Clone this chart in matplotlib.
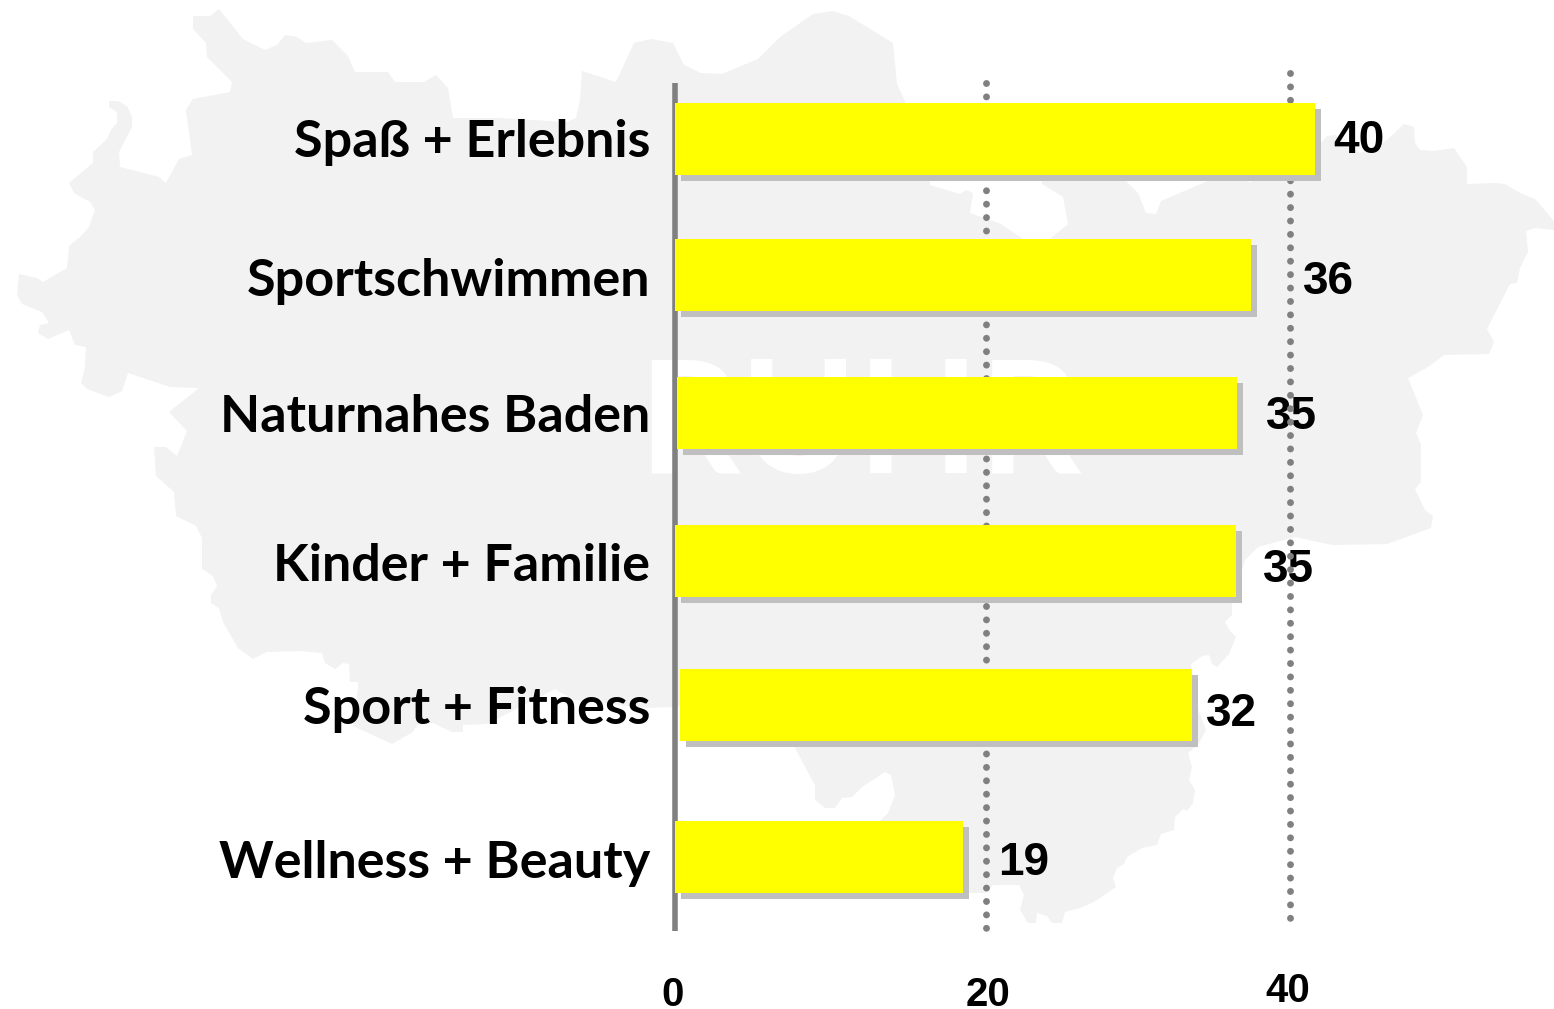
import matplotlib
matplotlib.use('Agg')
from matplotlib import pyplot as plt
from matplotlib.patches import Polygon

categories = ['Spaß + Erlebnis', 'Sportschwimmen', 'Naturnahes Baden', 'Kinder + Familie', 'Sport + Fitness', 'Wellness + Beauty']
value_labels = ['40', '36', '35', '35', '32', '19']
bar_ends = [41.6, 37.4, 36.5, 36.4, 33.5, 18.45]
bar_starts = [-0.49, -0.49, -0.36, -0.49, -0.16, -0.49]
tick_values = [0, 20, 40]
tick_labels = ['0', '20', '40']

# layout, in pixels of the 1554x1009 picture
X_ZERO = 682.5
X_SCALE = 15.2
ROW_CENTERS = [139, 275, 413, 561, 705, 857]
BAR_HEIGHT = 72
LABEL_BASELINES = [157, 296, 432, 581, 724, 878]
VALUE_CENTERS = [1359, 1328, 1291, 1288, 1232, 1024]
VALUE_BASELINES = [153, 294, 429, 582, 726, 875]
TICK_CENTERS = [673, 988, 1288]
TICK_BASELINES = [1006, 1006, 1002]

# background map outline
map_outline = [
    (193, 16), (210, 16), (219, 9), (243, 39), (265, 50), (277, 45), (285, 35), (297, 37), (306, 43), (332, 40),
    (348, 56), (355, 72), (388, 72), (395, 82), (424, 82), (436, 75), (448, 88), (453, 118), (500, 118), (566, 122),
    (576, 118), (580, 100), (582, 71), (616, 82), (634, 43), (651, 39), (673, 43), (684, 65), (701, 73), (722, 74),
    (758, 59), (780, 37), (813, 14), (832, 11), (849, 16), (893, 43), (897, 84), (905, 101), (930, 180), (930, 185),
    (960, 194), (966, 190), (973, 193), (970, 213), (1001, 224), (1023, 239), (1050, 239), (1068, 224), (1063, 197),
    (1042, 184), (1042, 175), (1127, 175), (1127, 182), (1138, 193), (1146, 213), (1156, 214), (1161, 201),
    (1210, 180), (1245, 178), (1250, 183), (1256, 176), (1321, 143), (1327, 136), (1335, 135), (1360, 153),
    (1387, 140), (1404, 124), (1414, 127), (1415, 143), (1420, 150), (1433, 151), (1454, 148), (1467, 167),
    (1467, 184), (1493, 183), (1505, 184), (1520, 193), (1535, 199), (1554, 221), (1554, 230), (1535, 228),
    (1526, 231), (1528, 252), (1520, 268), (1517, 283), (1510, 284), (1487, 329), (1494, 342), (1489, 354),
    (1444, 355), (1428, 367), (1408, 378), (1423, 415), (1416, 433), (1421, 445), (1421, 482), (1415, 489),
    (1425, 510), (1433, 516), (1431, 528), (1387, 544), (1332, 545), (1295, 537), (1258, 547), (1245, 560),
    (1232, 603), (1232, 615), (1225, 622), (1230, 631), (1236, 637), (1229, 654), (1217, 667), (1212, 664),
    (1209, 655), (1202, 656), (1191, 664), (1197, 707), (1206, 730), (1198, 745), (1188, 753), (1192, 767),
    (1189, 780), (1195, 790), (1193, 803), (1187, 811), (1183, 809), (1175, 817), (1174, 830), (1161, 834),
    (1157, 845), (1142, 848), (1127, 857), (1124, 864), (1117, 868), (1113, 878), (1116, 887), (1094, 902),
    (1080, 908), (1065, 912), (1062, 923), (1052, 923), (1047, 916), (1037, 913), (1036, 923), (1028, 923),
    (1020, 910), (1024, 895), (1019, 885), (993, 885), (985, 893), (968, 893), (900, 860), (880, 821), (888, 813),
    (895, 795), (891, 775), (885, 772), (862, 787), (852, 797), (842, 798), (835, 808), (825, 808), (815, 800),
    (815, 785), (812, 780), (795, 748), (770, 720), (720, 705), (673, 707), (647, 708), (574, 700), (555, 689),
    (487, 724), (463, 725), (463, 732), (452, 732), (433, 723), (417, 725), (413, 732), (392, 744), (353, 726),
    (358, 688), (358, 682), (350, 682), (349, 664), (343, 663), (335, 669), (325, 663), (322, 653), (300, 651),
    (267, 652), (253, 659), (238, 648), (223, 622), (219, 608), (211, 603), (211, 595), (217, 586), (213, 576),
    (202, 569), (202, 538), (196, 526), (176, 516), (174, 492), (156, 476), (154, 447), (166, 447), (177, 456),
    (187, 431), (169, 412), (199, 388), (170, 387), (128, 373), (122, 391), (109, 397), (87, 389), (81, 383),
    (85, 367), (86, 347), (75, 345), (69, 330), (48, 339), (38, 333), (40, 325), (49, 323), (42, 312), (22, 304),
    (17, 295), (19, 274), (37, 278), (43, 282), (67, 268), (69, 246), (80, 237), (89, 227), (95, 210), (90, 202),
    (74, 193), (69, 183), (82, 172), (93, 163), (93, 152), (107, 139), (111, 130), (117, 123), (117, 112),
    (109, 107), (109, 101), (118, 101), (127, 106), (132, 117), (132, 127), (119, 152), (120, 167), (140, 172),
    (159, 177), (166, 183), (179, 159), (192, 155), (186, 110), (193, 99), (230, 92), (232, 82), (207, 57),
    (206, 43), (193, 29),
]


def px_x(px):
    return (px - X_ZERO) / X_SCALE


fig = plt.figure(figsize=(15.54, 10.09), dpi=100)
ax = fig.add_axes([0, 0, 1, 1])
ax.set_xlim(px_x(0), px_x(1554))
ax.set_ylim(1009, 0)
ax.axis('off')

# map + watermark
ax.add_patch(Polygon([(px_x(x), y) for x, y in map_outline], closed=True, facecolor='#F2F2F2', edgecolor='none', zorder=1))
ax.text(px_x(860), 473, 'RUHR', color='white', fontsize=114, family='Lato', fontweight='bold',
        ha='center', va='baseline', zorder=2)

# value labels sit under the dots, the dots show through the 35s
for text, cx, base in zip(value_labels, VALUE_CENTERS, VALUE_BASELINES):
    ax.text(px_x(cx), base, text, fontsize=33, family='Liberation Sans', fontweight='bold',
            color='black', ha='center', va='baseline', zorder=3)

# dotted gridlines
ax.plot([20, 20], [83, 932], color='#808080', lw=5.0, linestyle=(0, (0.001, 1.93)),
        dash_capstyle='round', zorder=4)
ax.plot([40, 40], [73, 922], color='#808080', lw=5.0, linestyle=(0, (0.001, 1.93)),
        dash_capstyle='round', zorder=4)

# zero axis
ax.plot([px_x(675.5), px_x(675.5)], [83, 931], color='#808080', lw=4.0, solid_capstyle='butt', zorder=5)

# bars with offset shadow
shadow_dx = 6 / X_SCALE
ax.barh([y + 6 for y in ROW_CENTERS], [e - s for s, e in zip(bar_starts, bar_ends)], left=[s + shadow_dx for s in bar_starts],
        height=BAR_HEIGHT, color='#BFBFBF', linewidth=0, zorder=6)
ax.barh(ROW_CENTERS, [e - s for s, e in zip(bar_starts, bar_ends)], left=bar_starts,
        height=BAR_HEIGHT, color='#FFFF00', linewidth=0, zorder=7)

for text, base in zip(categories, LABEL_BASELINES):
    ax.text(px_x(650), base, text, fontsize=37.5, family='Lato', fontweight='bold',
            color='black', ha='right', va='baseline', zorder=8)

for value, text, cx, base in zip(tick_values, tick_labels, TICK_CENTERS, TICK_BASELINES):
    ax.text(px_x(cx), base, text, fontsize=29, family='Liberation Sans', fontweight='bold',
            color='black', ha='center', va='baseline', zorder=8)

fig.savefig('out.png', dpi=100)
